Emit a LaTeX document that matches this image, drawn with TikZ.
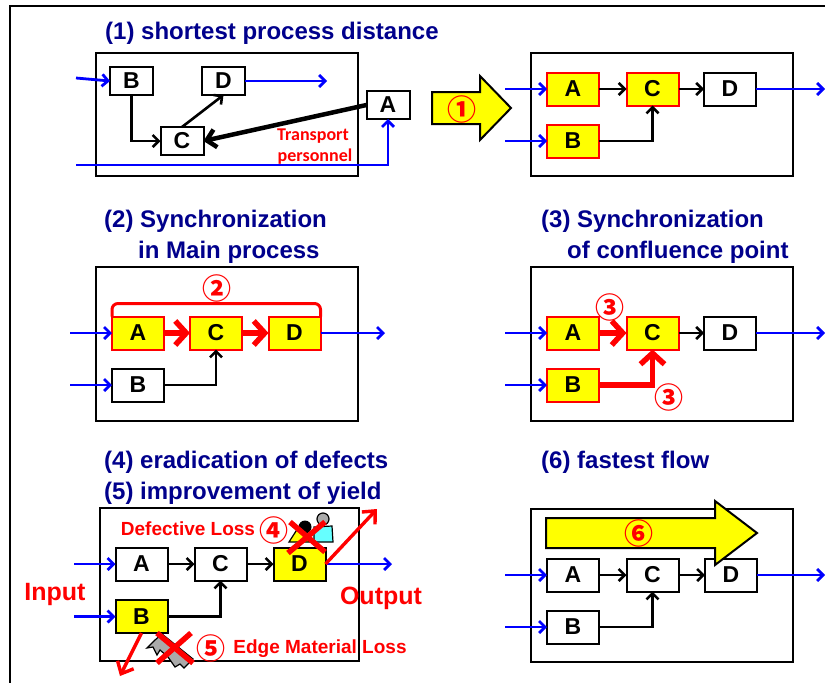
\documentclass[tikz,border=0pt]{standalone}
\usepackage{fontspec}
\setmainfont{Liberation Sans}
\newfontfamily\circfont{Noto Sans CJK JP}
\newfontfamily\noteFont{Carlito}
\usetikzlibrary{arrows.meta}

\definecolor{TitleBlue}{RGB}{0,0,140}
\definecolor{LineBlue}{RGB}{0,0,255}
\definecolor{HotRed}{RGB}{255,0,0}
\definecolor{HotYellow}{RGB}{255,255,0}
\definecolor{WorkerCyan}{RGB}{102,255,255}
\definecolor{ScrapGray}{RGB}{170,170,170}

\tikzset{
  BigBox/.style = {draw, line width=2pt, inner sep=0pt, outer sep=0pt, minimum width=52pt, minimum height=33pt, font=\fontsize{23}{23}\selectfont\bfseries},
  SmallBox/.style = {BigBox, minimum width=43pt, minimum height=28pt},
  HotBox/.style = {BigBox, fill=HotYellow},
  RedBox/.style = {HotBox, draw=HotRed},
  Panel/.style = {draw, line width=2pt, inner sep=0pt, outer sep=0pt},
  Title/.style = {anchor=west, inner sep=0pt, text=TitleBlue, font=\fontsize{24}{24}\selectfont\bfseries},
  RedText/.style = {inner sep=0pt, text=HotRed, font=\fontsize{25}{25}\selectfont\bfseries},
  LossText/.style = {inner sep=0pt, text=HotRed, font=\fontsize{19}{19}\selectfont\bfseries},
  NoteText/.style = {inner sep=0pt, text=HotRed, font=\fontsize{18}{18}\noteFont\bfseries},
  Circled/.style = {inner sep=0pt, text=HotRed, font=\fontsize{29}{29}\circfont\bfseries},
  BlueEdge/.style = {draw=LineBlue, line width=2.8pt, -{Straight Barb[length=6pt,width=12pt]}},
  BlackEdge/.style = {draw=black, line width=2.6pt, -{Straight Barb[length=6pt,width=12pt]}},
  HeavyEdge/.style = {draw=black, line width=4.5pt, -{Straight Barb[length=9pt,width=18pt]}},
  RedEdge/.style = {draw=HotRed, line width=5.5pt, -{Straight Barb[length=11pt,width=24pt]}},
  LossEdge/.style = {draw=HotRed, line width=3.4pt, -{Straight Barb[length=10pt,width=18pt]}},
  Cross/.style = {draw=HotRed, line width=5.5pt}
}

\begin{document}
\begin{tikzpicture}[x=1pt, y=-1pt]
    \useasboundingbox (0,0) rectangle (825,683);

    % Frame
    \coordinate (frameA) at (10,683);
    \coordinate (frameB) at (10,6);
    \coordinate (frameC) at (825,6);
    \draw[line width=2pt] (frameA) -- (frameB) -- (frameC);

    % Titles
    \node[Title] (title1) at (105,33) {(1) shortest process distance};
    \node[Title] (title2) at (104,221) {(2) Synchronization};
    \node[Title] (title2b) at (138,252) {in Main process};
    \node[Title] (title3) at (541,221) {(3) Synchronization};
    \node[Title] (title3b) at (567,252) {of confluence point};
    \node[Title] (title4) at (104,462) {(4) eradication of defects};
    \node[Title] (title5) at (104,493) {(5) improvement of yield};
    \node[Title] (title6) at (541,462) {(6) fastest flow};

    % Panels
    \node[Panel, minimum width=262pt, minimum height=123pt] (panel1) at (227,114.5) {};
    \node[Panel, minimum width=262pt, minimum height=123pt] (panel1b) at (662,114.5) {};
    \node[Panel, minimum width=262pt, minimum height=154pt] (panel2) at (227,344) {};
    \node[Panel, minimum width=262pt, minimum height=154pt] (panel3) at (662,344) {};
    \node[Panel, minimum width=259pt, minimum height=153pt] (panel4) at (229.5,584.5) {};
    \node[Panel, minimum width=262pt, minimum height=153pt] (panel6) at (662,585.5) {};

    % Before layout
    \node[SmallBox] (b1) at (131.5,81) {B};
    \node[SmallBox] (d1) at (223.5,81) {D};
    \node[SmallBox] (c1) at (182,141) {C};
    \node[SmallBox, fill=white] (a1) at (388,105) {A};
    \coordinate (in1) at (76,78);
    \coordinate (in1a) at (76,165);
    \coordinate (out1) at (327,81);
    \draw[BlueEdge] (in1) -- (b1.west);
    \draw[BlueEdge] (d1.east) -- (out1);
    \draw[BlueEdge] (in1a) -| (a1.south);
    \draw[BlackEdge] (b1.south) |- (c1.west);
    \draw[BlackEdge] (c1.north) -- (d1.south);
    \draw[HeavyEdge] (a1.west) -- (c1.east);
    \node[NoteText] (note1) at (313,136) {Transport};
    \node[NoteText] (note2) at (315,157) {personnel};

    % Big arrow
    \draw[line width=2pt, fill=HotYellow] (432,92) -- (480,92) -- (480,76) -- (511,108) -- (480,140) -- (480,124) -- (432,124) -- cycle;
    \node[Circled] (num1) at (462,109) {①};

    % After layout
    \node[RedBox] (a2) at (573,89) {A};
    \node[RedBox] (c2) at (652.5,89) {C};
    \node[BigBox] (d2) at (730,89) {D};
    \node[RedBox] (b2) at (573,141) {B};
    \coordinate (in2a) at (505,89);
    \coordinate (in2b) at (505,141);
    \coordinate (out2) at (825,89);
    \draw[BlueEdge] (in2a) -- (a2.west);
    \draw[BlueEdge] (in2b) -- (b2.west);
    \draw[BlueEdge] (d2.east) -- (out2);
    \draw[BlackEdge] (a2.east) -- (c2.west);
    \draw[BlackEdge] (c2.east) -- (d2.west);
    \draw[BlackEdge] (b2.east) -| (c2.south);

    % Main process
    \node[RedBox] (a3) at (138,333) {A};
    \node[RedBox] (c3) at (216,333) {C};
    \node[RedBox] (d3) at (294.5,333) {D};
    \node[BigBox] (b3) at (138,385) {B};
    \coordinate (in3a) at (70,333);
    \coordinate (in3b) at (70,385);
    \coordinate (out3) at (385,333);
    \draw[BlueEdge] (in3a) -- (a3.west);
    \draw[BlueEdge] (in3b) -- (b3.west);
    \draw[BlueEdge] (d3.east) -- (out3);
    \draw[RedEdge] (a3.east) -- (c3.west);
    \draw[RedEdge] (c3.east) -- (d3.west);
    \draw[BlackEdge] (b3.east) -| (c3.south);
    \draw[draw=HotRed, line width=3pt, rounded corners=6pt] (a3.north west) -- ++(0,-13) -- ([yshift=13pt]d3.north east) -- (d3.north east);
    \node[Circled] (num2) at (217,288) {②};

    % Confluence point
    \node[RedBox] (a4) at (573,333) {A};
    \node[RedBox] (c4) at (652.5,333) {C};
    \node[BigBox] (d4) at (730,333) {D};
    \node[RedBox] (b4) at (573,385) {B};
    \coordinate (in4a) at (505,333);
    \coordinate (in4b) at (505,385);
    \coordinate (out4) at (825,333);
    \draw[BlueEdge] (in4a) -- (a4.west);
    \draw[BlueEdge] (in4b) -- (b4.west);
    \draw[BlueEdge] (d4.east) -- (out4);
    \draw[RedEdge] (a4.east) -- (c4.west);
    \draw[BlackEdge] (c4.east) -- (d4.west);
    \draw[RedEdge] (b4.east) -| (c4.south);
    \node[Circled] (num3) at (610,307) {③};
    \node[Circled] (num3b) at (669,397) {③};

    % Defects and yield
    \node[BigBox] (a5) at (141.5,564) {A};
    \node[BigBox] (c5) at (220.5,564) {C};
    \node[HotBox] (d5) at (299.5,564) {D};
    \node[HotBox] (b5) at (141.5,616.5) {B};
    \coordinate (in5a) at (74,564);
    \coordinate (in5b) at (74,616.5);
    \coordinate (out5) at (392,564);
    \coordinate (loss5a) at (377,509);
    \coordinate (loss5b) at (120,676);
    \draw[BlueEdge] (in5a) -- (a5.west);
    \draw[BlueEdge] (in5b) -- (b5.west);
    \draw[BlueEdge] (d5.east) -- (out5);
    \draw[BlackEdge] (a5.east) -- (c5.west);
    \draw[BlackEdge] (c5.east) -- (d5.west);
    \draw[BlackEdge] (b5.east) -| (c5.south);
    \draw[LossEdge] (d5.east) -- (loss5a);
    \draw[LossEdge] (b5.south) -- (loss5b);

    % Worker
    \draw[line width=1.2pt, fill=HotYellow] (289,542) -- (298,528) -- (310,542) -- cycle;
    \draw[line width=1.2pt, fill=WorkerCyan] (314,527) -- (332,526) -- (333,542) -- (314,542) -- cycle;
    \draw[line width=1.2pt, fill=ScrapGray] (323,519) circle (6);
    \fill (305,527) circle (6.5);
    \draw[Cross] (290,522) -- (325,552);
    \draw[Cross] (288,553) -- (325,522);

    % Scrap
    \draw[line width=1.2pt, fill=ScrapGray] (147,648) -- (155,640) -- (162,634) -- (193,659) -- (184,668) -- (180,664) -- (175,667) -- (168,657) -- (160,650) -- (157,655) -- (153,647) -- cycle;
    \draw[Cross] (157,633) -- (193,663);
    \draw[Cross] (157,663) -- (191,633);

    % Loss labels
    \node[LossText] (lossD) at (188,529) {Defective Loss};
    \node[Circled] (num4) at (274,530) {④};
    \node[Circled] (num5) at (211,648) {⑤};
    \node[LossText] (lossE) at (320,649) {Edge Material Loss};
    \node[RedText] (input) at (55,594) {Input};
    \node[RedText] (output) at (381,598) {Output};

    % Fastest flow
    \node[BigBox] (a6) at (573,575) {A};
    \node[BigBox] (c6) at (652.5,575) {C};
    \node[BigBox] (d6) at (731,575) {D};
    \node[BigBox] (b6) at (573,627) {B};
    \coordinate (in6a) at (505,575);
    \coordinate (in6b) at (505,627);
    \coordinate (out6) at (825,575);
    \draw[BlueEdge] (in6a) -- (a6.west);
    \draw[BlueEdge] (in6b) -- (b6.west);
    \draw[BlueEdge] (d6.east) -- (out6);
    \draw[BlackEdge] (a6.east) -- (c6.west);
    \draw[BlackEdge] (c6.east) -- (d6.west);
    \draw[BlackEdge] (b6.east) -| (c6.south);
    \draw[line width=2pt, fill=HotYellow] (546,518) -- (715,518) -- (715,501) -- (757,533) -- (715,565) -- (715,548) -- (546,548) -- cycle;
    \node[Circled] (num6) at (639,533) {⑥};
\end{tikzpicture}
\end{document}
